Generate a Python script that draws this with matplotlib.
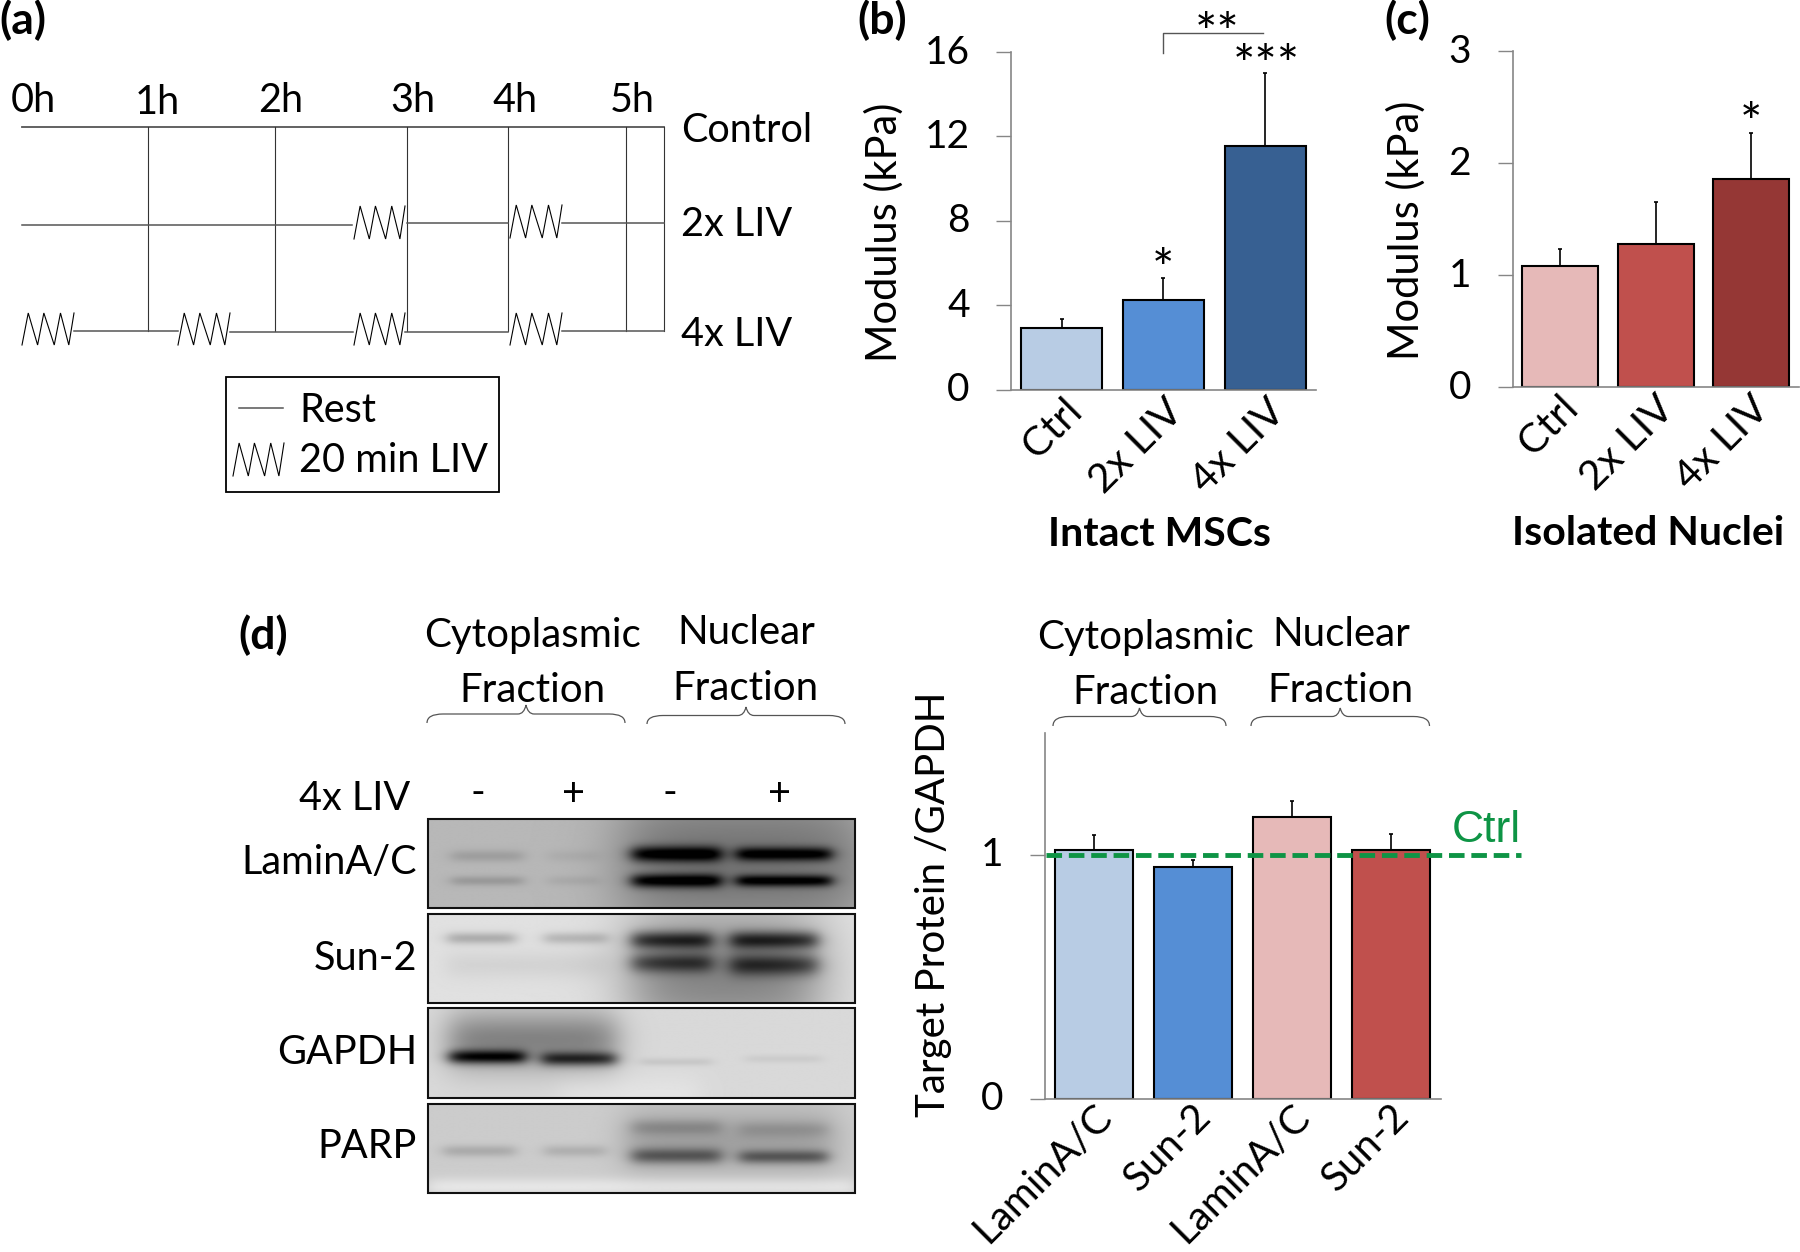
import matplotlib
matplotlib.use("Agg")
import matplotlib.pyplot as plt
import numpy as np
from matplotlib.path import Path
from matplotlib.patches import PathPatch, Rectangle
from matplotlib.transforms import ScaledTranslation

plt.rcParams['font.family'] = ['Lato', 'DejaVu Sans']

W, H = 1800, 1252

# panel b
mscs_labels = ["Ctrl", "2x LIV", "4x LIV"]
mscs_values = [2.91, 4.27, 11.53]
mscs_errors = [0.44, 1.02, 3.47]
mscs_colors = ["#b8cce4", "#558ed5", "#376092"]

# panel c
nuclei_labels = ["Ctrl", "2x LIV", "4x LIV"]
nuclei_values = [1.08, 1.28, 1.86]
nuclei_errors = [0.15, 0.37, 0.41]
nuclei_colors = ["#e6b9b8", "#c0504d", "#953735"]

# panel d
protein_labels = ["LaminA/C", "Sun-2", "LaminA/C", "Sun-2"]
protein_values = [1.02, 0.95, 1.155, 1.02]
protein_errors = [0.06, 0.03, 0.065, 0.065]
protein_colors = ["#b8cce4", "#558ed5", "#e6b9b8", "#c0504d"]

# schedule in panel a
hour_labels = ["0h", "1h", "2h", "3h", "4h", "5h"]
hour_lines = [148, 275, 407, 508, 626, 664]

# blot rows: band = x0, x1, y, half height, darkness
blot_boxes = [(819, 908), (914, 1003), (1008, 1098), (1104, 1193)]
blot_base = [0.72, 0.88, 0.85, 0.80]
blot_bands = [
    [(625, 860, 862, 75, 0.27), (451, 523, 856, 6, 0.10), (451, 523, 881, 5, 0.12),
     (548, 599, 856, 6, 0.04), (548, 599, 881, 5, 0.05),
     (632, 721, 854, 8, 0.56), (632, 721, 881, 7, 0.56),
     (737, 832, 854, 7, 0.52), (737, 832, 881, 6, 0.52)],
    [(632, 818, 975, 70, 0.36), (447, 515, 938, 6, 0.20), (544, 607, 938, 6, 0.16),
     (447, 607, 965, 14, 0.05),
     (632, 712, 940, 9, 0.50), (632, 712, 963, 10, 0.38),
     (731, 818, 940, 9, 0.50), (731, 818, 965, 11, 0.40)],
    [(449, 616, 1040, 30, 0.34), (449, 525, 1057, 7, 0.62), (542, 616, 1059, 7, 0.50),
     (641, 712, 1062, 4, 0.07), (746, 822, 1059, 4, 0.05),
     (560, 700, 1095, 22, -0.04)],
    [(428, 855, 1187, 9, -0.10), (625, 835, 1140, 32, 0.17), (443, 515, 1151, 6, 0.13),
     (544, 605, 1151, 6, 0.11),
     (632, 721, 1156, 8, 0.34), (632, 721, 1127, 8, 0.13),
     (740, 828, 1157, 7, 0.34), (740, 828, 1129, 8, 0.09)],
]


def px_axes(x0, x1, y_top, y_bot):
    return fig.add_axes([x0 / W, 1 - y_bot / H, (x1 - x0) / W, (y_bot - y_top) / H])


def T(x, y, s, size=28.5, ha='center', **kw):
    # the +3 keeps Lato's optical centre on the measured line
    over.text(x, y + 3, s, fontsize=size, ha=ha, va='center', **kw)


def zigzag(x0, x1, y_top, y_bot):
    fr = np.array([0, .12, .3, .42, .62, .74, .9, 1.0])
    ys = [y_bot, y_top] * 4
    over.plot(x0 + fr * (x1 - x0), ys, color='black', lw=0.8, solid_joinstyle='miter')


def seg(x0, x1, y):
    over.plot([x0, x1], [y, y], color='#555555', lw=1.1)


def brace(x0, x1, y_end, y_flat, y_tip):
    mid = (x0 + x1) / 2
    r = 8
    verts = [(x0, y_end), (x0, y_flat), (x0 + 2 * r, y_flat), (mid - r, y_flat),
             (mid - 2, y_flat), (mid, y_tip), (mid + 2, y_flat), (mid + r, y_flat),
             (x1 - 2 * r, y_flat), (x1, y_flat), (x1, y_end)]
    codes = [Path.MOVETO, Path.CURVE3, Path.CURVE3, Path.LINETO, Path.CURVE3, Path.CURVE3,
             Path.CURVE3, Path.CURVE3, Path.LINETO, Path.CURVE3, Path.CURVE3]
    over.add_patch(PathPatch(Path(verts, codes), fc='none', ec='#555555', lw=0.9))


def blot_image(y0, y1, base, bands):
    xs = np.arange(428, 856)
    ys = np.arange(y0, y1 + 1)
    xx, yy = np.meshgrid(xs, ys)
    img = np.full(xx.shape, base, dtype=float)
    for bx0, bx1, by, hh, dark in bands:
        edge = 6 + hh * 0.4
        sx = 0.5 * (np.tanh((xx - bx0) / edge) - np.tanh((xx - bx1) / edge))
        sy = np.exp(-((yy - by) / hh) ** 2)
        img -= dark * sx * sy
    return np.clip(img, 0, 1)


def bar_panel(ax, labels, values, errors, colors, yticks, ymax, xoff, pad):
    x = np.arange(len(values))
    ax.bar(x, values, width=0.795, color=colors, edgecolor='black', linewidth=1.5, zorder=2)
    ax.errorbar(x, values, yerr=[np.zeros(len(errors)), errors], fmt='none', ecolor='black',
                elinewidth=1.2, capsize=1.5, capthick=1.2, zorder=1)
    ax.set_xlim(-0.5, len(values) - 0.5)
    ax.set_ylim(0, ymax)
    ax.set_yticks(yticks)
    ax.tick_params(axis='y', length=10.8, width=1, color='#868686', pad=19, labelsize=28)
    for lab in ax.get_yticklabels():
        lab.set_transform(lab.get_transform() + ScaledTranslation(0, 0.03, fig.dpi_scale_trans))
    ax.set_xticks(x)
    ax.set_xticklabels(labels, rotation=45, ha='right', va='center', rotation_mode='anchor',
                       fontsize=29.5)
    ax.tick_params(axis='x', length=0, pad=pad)
    for lab in ax.get_xticklabels():
        lab.set_transform(lab.get_transform() + ScaledTranslation(xoff / 100, 0, fig.dpi_scale_trans))
    for s in ['top', 'right']:
        ax.spines[s].set_visible(False)
    for s in ['left', 'bottom']:
        ax.spines[s].set_color('#868686')
        ax.spines[s].set_linewidth(1.2)
    ax.patch.set_alpha(0)


fig = plt.figure(figsize=(W / 100, H / 100), dpi=100)
over = fig.add_axes([0, 0, 1, 1])

# western blots
for (y0, y1), base, bands in zip(blot_boxes, blot_base, blot_bands):
    over.imshow(blot_image(y0, y1, base, bands), cmap='gray', vmin=0, vmax=1, aspect='auto',
                extent=(428, 855, y1, y0), interpolation='bilinear')
    over.add_patch(Rectangle((428, y0), 427, y1 - y0, fc='none', ec='#111111', lw=1.5))
over.set_xlim(0, W)
over.set_ylim(H, 0)
over.axis('off')

# panel a
T(23, 17, "(a)", weight='bold', size=32)
hour_x = [33, 157, 281, 413, 515, 632]
hour_y = [97, 100, 97, 97, 97, 97]
for x, y, s in zip(hour_x, hour_y, hour_labels):
    T(x, y, s)
over.plot([22, 664], [127, 127], color='#555555', lw=1.3)
for x in hour_lines:
    over.plot([x, x], [127, 331], color='#333333', lw=0.8)
seg(22, 352, 225)
zigzag(354, 405, 206, 239)
seg(407, 508, 223)
zigzag(510, 562, 205, 238)
seg(562, 664, 222.5)
zigzag(22, 74, 313, 345)
seg(74, 178, 331)
zigzag(178, 230, 313, 345)
seg(230, 353, 331.5)
zigzag(354, 405, 313, 345)
seg(405, 508, 331.5)
zigzag(510, 562, 313, 345)
seg(562, 664, 331)
T(681, 127, "Control", ha='left')
T(681, 222, "2x LIV", ha='left')
T(681, 331, "4x LIV", ha='left')
over.add_patch(Rectangle((225.5, 377), 273.5, 115, fc='none', ec='black', lw=1.3))
over.plot([239, 283], [408, 408], color='#555555', lw=1.1)
zigzag(233, 284, 443, 476)
T(299, 408, "Rest", ha='left')
T(299, 458, "20 min LIV", ha='left')

# panel b
ax_b = px_axes(1011, 1316, 52, 389.8)
bar_panel(ax_b, mscs_labels, mscs_values, mscs_errors, mscs_colors, [0, 4, 8, 12, 16], 16, 14, 11)
ax_b.set_ylabel("Modulus (kPa)", fontsize=30, va='center')
ax_b.yaxis.set_label_coords((884 - 1011) / 305, (389.8 - 232.4) / 337.8)
ax_b.set_xlabel("Intact MSCs", fontsize=29.5, weight='bold')
ax_b.xaxis.set_label_coords((1160 - 1011) / 305, (389.8 - 535) / 337.8)
ax_b.xaxis.label.set_va('center')
T(882, 17, "(b)", weight='bold', size=32)
over.plot([1163, 1163, 1263], [53, 33.4, 33.4], color='#555555', lw=1)
T(1217, 33, "**", size=38)
T(1266, 66, "***", size=38)
T(1163, 270, "*", size=38)

# panel c
ax_c = px_axes(1512.5, 1799, 51.3, 387)
bar_panel(ax_c, nuclei_labels, nuclei_values, nuclei_errors, nuclei_colors, [0, 1, 2, 3], 3, 12, 11)
ax_c.set_ylabel("Modulus (kPa)", fontsize=30, va='center')
ax_c.yaxis.set_label_coords((1406 - 1512.5) / 286.5, (387 - 230.6) / 335.7)
ax_c.set_xlabel("Isolated Nuclei", fontsize=29.5, weight='bold')
ax_c.xaxis.set_label_coords((1648 - 1512.5) / 286.5, (387 - 533) / 335.7)
ax_c.xaxis.label.set_va('center')
T(1407, 17, "(c)", weight='bold', size=32)
T(1751, 123, "*", size=38)

# panel d, blot labels
T(263, 632, "(d)", weight='bold', size=32)
T(532, 632, "Cytoplasmic", size=29)
T(532, 687, "Fraction", size=29)
T(746, 630, "Nuclear", size=29)
T(745, 685, "Fraction", size=29)
brace(427, 625, 723, 714, 705)
brace(647, 845, 724, 715.5, 707)
T(410, 795, "4x LIV", ha='right')
for x, s in zip([478, 573.5, 669.5, 780], ["-", "+", "-", "+"]):
    T(x, 791, s)
for y, s in zip([859, 955, 1050, 1144], ["LaminA/C", "Sun-2", "GAPDH", "PARP"]):
    T(417, y, s, ha='right')

# panel d, bars
ax_d = px_axes(1044.5, 1440.5, 733, 1099)
bar_panel(ax_d, protein_labels, protein_values, protein_errors, protein_colors, [0, 1], 1.5, 12, 8)
for lab in ax_d.get_xticklabels():
    lab.set_fontsize(29)
ax_d.plot([-0.48, 4.31], [1, 1], color='#0e9445', lw=3.5, ls=(0, (3.2, 1.4)), clip_on=False, zorder=3)
ax_d.set_ylabel("Target Protein /GAPDH", fontsize=29, va='center')
ax_d.yaxis.set_label_coords((934 - 1044.5) / 396, (1099 - 904) / 366)
T(1145.5, 634.5, "Cytoplasmic", size=29)
T(1145.5, 690, "Fraction", size=29)
T(1341, 631.5, "Nuclear", size=29)
T(1340, 687, "Fraction", size=29)
brace(1053, 1226, 726, 716.5, 708)
brace(1251, 1429.5, 726, 716.5, 708)
T(1486, 827, "Ctrl", size=32, color='#0e9445', family=['Liberation Sans'])

fig.savefig("out.png", dpi=100)
